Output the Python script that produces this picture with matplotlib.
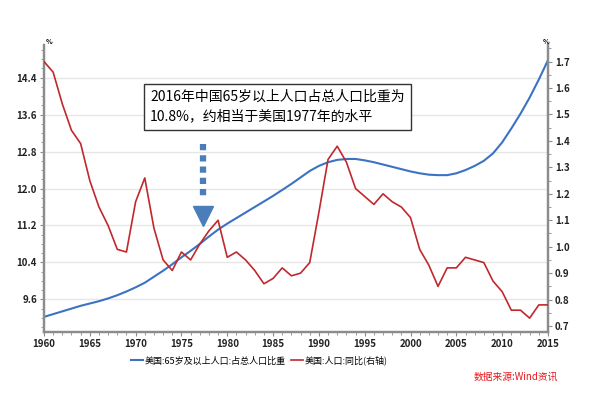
import matplotlib.pyplot as plt
from matplotlib.ticker import MultipleLocator

plt.rcParams['font.family'] = ['Noto Sans CJK SC', 'DejaVu Sans']

years = list(range(1960, 2016))

# 美国:65岁及以上人口:占总人口比重 (%)
share_65 = [9.22, 9.28, 9.34, 9.40, 9.46, 9.51, 9.56, 9.62, 9.69, 9.77,
            9.86, 9.96, 10.09, 10.22, 10.36, 10.51, 10.65, 10.80, 10.96, 11.11,
            11.24, 11.36, 11.48, 11.60, 11.72, 11.84, 11.97, 12.10, 12.24, 12.38,
            12.49, 12.57, 12.62, 12.64, 12.64, 12.61, 12.57, 12.52, 12.47, 12.42,
            12.37, 12.33, 12.30, 12.29, 12.29, 12.33, 12.40, 12.49, 12.60, 12.76,
            13.00, 13.30, 13.62, 13.97, 14.36, 14.78]

# 美国:人口:同比 (%, 右轴)
pop_growth = [1.70, 1.66, 1.54, 1.44, 1.39, 1.25, 1.15, 1.08, 0.99, 0.98,
              1.17, 1.26, 1.07, 0.95, 0.91, 0.98, 0.95, 1.01, 1.06, 1.10,
              0.96, 0.98, 0.95, 0.91, 0.86, 0.88, 0.92, 0.89, 0.90, 0.94,
              1.13, 1.33, 1.38, 1.32, 1.22, 1.19, 1.16, 1.20, 1.17, 1.15,
              1.11, 0.99, 0.93, 0.85, 0.92, 0.92, 0.96, 0.95, 0.94, 0.87,
              0.83, 0.76, 0.76, 0.73, 0.78, 0.78]

legend_labels = ['美国:65岁及以上人口:占总人口比重', '美国:人口:同比(右轴)']
note = '2016年中国65岁以上人口占总人口比重为\n10.8%，约相当于美国1977年的水平'

blue = '#3b73c2'
red = '#c0282d'
axis_grey = '#8c8c8c'
arrow_blue = '#4a7ebb'

fig = plt.figure(figsize=(6, 3.94), dpi=100)
ax = fig.add_axes([0.0733, 0.157, 0.84, 0.729])
ax2 = ax.twinx()

l1, = ax.plot(years, share_65, color=blue, lw=1.5, zorder=3)
l2, = ax2.plot(years, pop_growth, color=red, lw=1.2, zorder=3)

ax.set_xlim(1960, 2015)
ax.set_ylim(8.89, 15.11)
ax2.set_ylim(0.677, 1.763)

ax.xaxis.set_major_locator(MultipleLocator(5))
ax.xaxis.set_minor_locator(MultipleLocator(1))
ax.yaxis.set_minor_locator(MultipleLocator(0.2))
ax.set_yticks([9.6, 10.4, 11.2, 12.0, 12.8, 13.6, 14.4])
ax.set_yticklabels(['9.6', '10.4', '11.2', '12.0', '12.8', '13.6', '14.4'])
ax2.yaxis.set_major_locator(MultipleLocator(0.1))
ax2.yaxis.set_minor_locator(MultipleLocator(0.05))
ax2.set_yticklabels(['%.1f' % v for v in ax2.get_yticks()])

ax.grid(axis='y', color='#e6e6e6', lw=1)
ax.set_axisbelow(True)

for a in (ax, ax2):
    a.spines['top'].set_visible(False)
    for s in ('left', 'right', 'bottom'):
        a.spines[s].set_color(axis_grey)
        a.spines[s].set_linewidth(1.6)
    a.tick_params(which='major', length=3, color=axis_grey, labelsize=7,
                  labelcolor='#222222', pad=2)
    a.tick_params(which='minor', length=2, color=axis_grey)
    for lab in a.get_xticklabels() + a.get_yticklabels():
        lab.set_fontweight('bold')

fig.text(0.077, 0.888, '%', fontsize=5, fontweight='bold')
fig.text(0.905, 0.888, '%', fontsize=5, fontweight='bold')

# annotation box and dotted arrow
fig.text(0.25, 0.772, note, fontsize=10, linespacing=1.5, va='top', ha='left',
         zorder=5, bbox=dict(boxstyle='square,pad=0.45', fc='white', ec='#333333', lw=1))
ax.plot([1977.4, 1977.4], [12.96, 11.84], color=arrow_blue, lw=4.5,
        ls=(0, (1, 0.8)), dash_capstyle='butt', zorder=4)
ax.plot([1977.4], [11.4], marker='v', ms=15, color=arrow_blue, mec=arrow_blue, zorder=4)

fig.legend([l1, l2], legend_labels, loc='center', bbox_to_anchor=(0.432, 0.085),
           ncol=2, frameon=False, fontsize=6.5, handlelength=1.3, handletextpad=0.2,
           columnspacing=0.6)

fig.text(0.93, 0.043, '数据来源:Wind资讯', color='#e8161b', fontsize=7,
         style='italic', ha='right', va='center')

fig.savefig('out.png', dpi=100)
